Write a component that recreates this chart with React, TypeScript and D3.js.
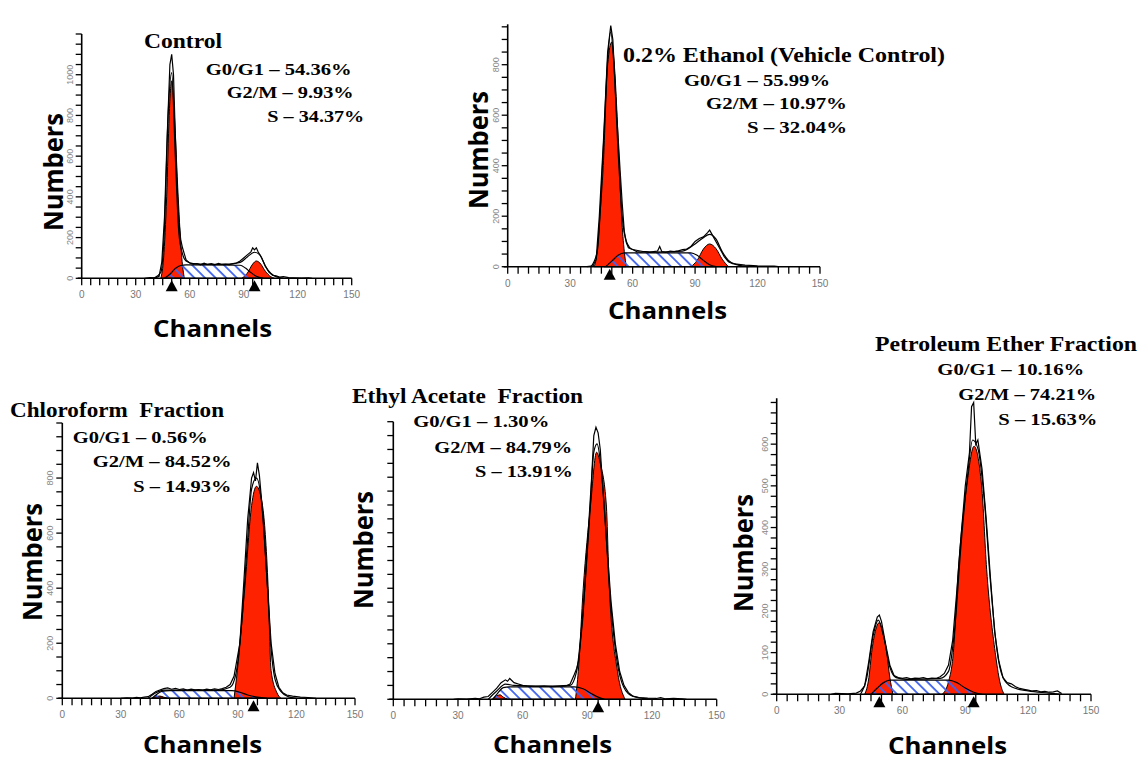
import React from 'react';
import * as d3 from 'd3';

type Pt = [number, number];

const channelTicks = [0, 30, 60, 90, 120, 150];

// ---- Control ----
const controlData: Pt[] = [[35,0],[38,3],[41,2],[43,10],[44.5,80],[46,300],[47.5,700],[49,1050],[50,1100],[51,1000],[52,700],[53,450],[54,280],[55,190],[56,150],[57,120],[58,90],[60,75],[62,70],[64,72],[66,66],[68,74],[70,68],[72,72],[74,66],[76,73],[78,68],[80,70],[82,67],[84,72],[86,75],[88,85],[90,100],[92,115],[94,130],[95,150],[96,140],[97,150],[98,130],[100,100],[102,60],[104,30],[106,15],[108,12],[110,6],[112,8],[115,3],[118,2],[122,1],[126,2],[128,0]];
const controlFit: Pt[] = [[40,0],[44,30],[46,250],[48,800],[50,1010],[52,600],[54,220],[56,120],[58,85],[62,72],[70,68],[80,68],[88,78],[92,105],[96,128],[99,115],[102,60],[105,25],[108,8],[112,0]];
const controlG1: Pt[] = [[44,0],[45.5,100],[47.2,400],[48.6,800],[50,970],[51.5,800],[53.6,400],[55.6,100],[57,0]];
const controlG2: Pt[] = [[89,0],[92,25],[95,70],[97,85],[99,75],[102,35],[105,8],[107,0]];
const controlS: Pt[] = [[46,0],[49,20],[52,48],[55,63],[58,66],[88,64],[91,50],[94,28],[97,10],[101,0]];
const controlMarkers = [50, 96];
const controlYLabels = [0, 200, 400, 600, 800, 1000];

// ---- 0.2% Ethanol ----
const ethanolData: Pt[] = [[38,0],[41,3],[42.5,30],[44,200],[46,500],[48,850],[49.5,955],[50.5,900],[52,650],[54,380],[55,250],[56,140],[57,95],[58,75],[60,68],[62,60],[64,58],[66,60],[68,57],[70,60],[72,62],[73,80],[74,60],[76,57],[78,62],[80,60],[82,63],[84,68],[86,70],[88,80],[90,100],[92,112],[94,118],[96,135],[97,145],[98,130],[100,100],[102,70],[104,40],[106,20],[108,12],[110,10],[112,8],[114,6],[116,5],[118,4],[120,3],[124,2],[128,2],[130,0]];
const ethanolFit: Pt[] = [[40,0],[43,60],[46,480],[48,820],[49.5,930],[51,800],[53,460],[55,200],[57,100],[60,68],[70,58],[84,62],[90,90],[94,115],[97,128],[100,110],[103,60],[106,25],[110,8],[116,0]];
const ethanolG1: Pt[] = [[41.5,0],[43,60],[44.3,200],[45.9,400],[48,800],[50,890],[51.2,800],[53.6,400],[54.7,200],[56,60],[57,0]];
const ethanolG2: Pt[] = [[88,0],[91,25],[94,70],[97,90],[100,72],[103,30],[106,0]];
const ethanolS: Pt[] = [[47,0],[50,22],[53,45],[56,55],[88,55],[91,45],[94,25],[97,8],[100,0]];
const ethanolMarkers = [49];
const ethanolYLabels = [0, 200, 400, 600, 800];

// ---- Chloroform ----
const chloroData: Pt[] = [[30,0],[33,2],[36,1],[38,3],[40,2],[42,4],[44,6],[46,15],[48,25],[50,30],[52,35],[54,38],[56,33],[58,36],[60,32],[62,34],[64,30],[66,33],[68,31],[70,32],[72,30],[74,33],[76,31],[78,34],[80,32],[82,35],[84,40],[86,50],[88,80],[89,120],[91,200],[93,420],[95,650],[97,800],[98,820],[99,790],[100,855],[101,810],[103,650],[105,420],[107,200],[109,90],[111,40],[113,20],[115,12],[118,8],[122,4],[126,3],[130,0]];
const chloroFit: Pt[] = [[44,0],[48,20],[52,30],[60,30],[80,30],[86,40],[89,90],[92,280],[95,580],[97,760],[99.5,800],[102,720],[105,420],[107,180],[109,70],[112,25],[116,5],[120,0]];
const chloroG1: Pt[] = [[46,0],[48,6],[50,8],[52,4],[54,0]];
const chloroG2: Pt[] = [[88,0],[89.7,100],[93.5,400],[97,700],[99.5,770],[102.6,700],[105.5,400],[107,100],[110,20],[112,0]];
const chloroS: Pt[] = [[46,0],[48,12],[51,25],[55,28],[87,28],[91,22],[95,12],[100,4],[105,0]];
const chloroMarkers = [98];
const chloroYLabels = [0, 200, 400, 600, 800];

// ---- Ethyl Acetate ----
const ethylData: Pt[] = [[28,0],[30,2],[34,1],[38,3],[40,2],[42,8],[44,10],[46,25],[48,40],[50,60],[52,70],[53,65],[54,75],[56,60],[58,55],[60,50],[62,48],[66,47],[70,48],[74,46],[78,47],[80,48],[82,55],[84,90],[85,110],[86,140],[88,300],[90,550],[92,800],[93,950],[94,980],[95,960],[96,900],[97,780],[99,560],[101,350],[103,200],[105,100],[107,50],[109,25],[111,12],[114,6],[118,4],[122,3],[124,6],[126,2],[130,3],[134,2],[136,0]];
const ethylFit: Pt[] = [[44,0],[48,30],[52,55],[56,50],[70,47],[82,50],[85,100],[88,320],[91,650],[93,890],[94.5,920],[96,860],[98,680],[100,430],[103,180],[106,60],[110,15],[116,3],[120,0]];
const ethylG1: Pt[] = [[46,0],[48,12],[49.5,16],[51,8],[53,0]];
const ethylG2: Pt[] = [[84.5,0],[85.8,100],[88.1,400],[91.5,700],[94.3,890],[96,850],[98.8,700],[100.2,400],[104,100],[107.5,0]];
const ethylS: Pt[] = [[46,0],[48,18],[51,42],[54,45],[84,45],[88,38],[92,20],[95,8],[98,0]];
const ethylMarkers = [95];
const ethylYLabels: number[] = [];

// ---- Petroleum Ether ----
const petroData: Pt[] = [[26,0],[28,2],[34,1],[38,3],[40,8],[42,20],[44,80],[46,150],[48,185],[49,190],[50,175],[52,120],[54,70],[56,45],[58,40],[60,38],[62,40],[64,37],[66,39],[68,38],[70,40],[72,37],[74,39],[76,38],[78,42],[80,50],[82,70],[84,130],[86,250],[88,380],[90,500],[92,580],[93,690],[94,700],[95,600],[96,610],[98,540],[100,420],[102,280],[104,150],[106,80],[108,40],[110,28],[112,25],[114,18],[116,14],[118,12],[120,10],[122,8],[124,9],[126,6],[128,7],[130,5],[132,6],[134,8],[136,2]];
const petroFit: Pt[] = [[40,0],[43,40],[46,140],[48.5,178],[51,140],[54,65],[57,40],[62,36],[78,38],[82,55],[85,160],[88,360],[91,520],[93.5,610],[96,590],[99,470],[102,270],[105,110],[108,40],[112,18],[120,8],[130,3],[136,0]];
const petroG1: Pt[] = [[42,0],[44,40],[45.3,100],[47,150],[49,172],[50.5,150],[52.5,100],[54,40],[55.5,0]];
const petroG2: Pt[] = [[79,0],[82,30],[84.3,100],[86.7,300],[90.7,500],[94.2,595],[97.8,500],[100.2,300],[104.3,100],[106.5,30],[108.5,0]];
const petroS: Pt[] = [[45,0],[48,15],[51,28],[54,34],[82,34],[86,28],[90,15],[94,5],[98,0]];
const petroMarkers = [49, 94];
const petroYLabels = [0, 100, 200, 300, 400, 500, 600];

const titles = ['Control', '0.2% Ethanol (Vehicle Control)', 'Chloroform  Fraction', 'Ethyl Acetate  Fraction', 'Petroleum Ether Fraction'];
const g1Values = ['54.36%', '55.99%', '0.56%', '1.30%', '10.16%'];
const g2Values = ['9.93%', '10.97%', '84.52%', '84.79%', '74.21%'];
const sValues = ['34.37%', '32.04%', '14.93%', '13.91%', '15.63%'];

const panels = [
  { data: controlData, fit: controlFit, g1: controlG1, g2: controlG2, s: controlS, markers: controlMarkers, yLabels: controlYLabels, yMax: 1200, yStep: 50 },
  { data: ethanolData, fit: ethanolFit, g1: ethanolG1, g2: ethanolG2, s: ethanolS, markers: ethanolMarkers, yLabels: ethanolYLabels, yMax: 960, yStep: 50 },
  { data: chloroData, fit: chloroFit, g1: chloroG1, g2: chloroG2, s: chloroS, markers: chloroMarkers, yLabels: chloroYLabels, yMax: 1000, yStep: 50 },
  { data: ethylData, fit: ethylFit, g1: ethylG1, g2: ethylG2, s: ethylS, markers: ethylMarkers, yLabels: ethylYLabels, yMax: 1000, yStep: 50 },
  { data: petroData, fit: petroFit, g1: petroG1, g2: petroG2, s: petroS, markers: petroMarkers, yLabels: petroYLabels, yMax: 710, yStep: 25 },
];

// plot boxes (pixels)
const boxes = [
  { left: 81.7, right: 351.7, top: 34, bottom: 278.3 },
  { left: 507.7, right: 820, top: 24.3, bottom: 266.7 },
  { left: 62.3, right: 355, top: 423, bottom: 698.3 },
  { left: 393.3, right: 716.7, top: 421.7, bottom: 699.3 },
  { left: 776.7, right: 1091, top: 398.3, bottom: 694.3 },
];

// text layout: [x, baseline, width]
const titlePos = [[144, 48.3, 78], [623, 61.7, 322], [10, 417.3, 214], [352, 402.7, 231], [875, 350.7, 262]];
const g1Pos = [[205.7, 75, 146], [684, 86, 146], [72.7, 442.7, 135], [413.3, 427.3, 136], [937.3, 375, 147]];
const g2Pos = [[226.7, 98.3, 127], [706, 109.3, 141], [92.7, 467.3, 139], [434.3, 452.7, 138], [958.3, 400, 138]];
const sPos = [[267.3, 121.7, 97], [747, 132.7, 100], [133.3, 491.7, 98], [475, 477.3, 98], [998.3, 425, 99]];
const numbersPos = [[63, 172], [488, 150], [41.7, 562], [373.3, 550], [753.3, 553]];
const channelsPos = [[212.5, 336.7], [667.5, 319], [202.5, 753], [552.5, 753], [947.5, 754]];

const serif = '"Liberation Serif", "Times New Roman", serif';
const sans = '"Open Sans", "Noto Sans", sans-serif';
const tickFont = '"Liberation Sans", Arial, sans-serif';

const Panel = ({ cfg, box, idx }: { cfg: typeof panels[number]; box: typeof boxes[number]; idx: number }) => {
  const x = d3.scaleLinear().domain([0, 150]).range([box.left, box.right]);
  const y = d3.scaleLinear().domain([0, cfg.yMax]).range([box.bottom, box.top]);
  const area = d3.area<Pt>().x(d => x(d[0])).y0(y(0)).y1(d => y(d[1])).curve(d3.curveMonotoneX);
  const smooth = d3.line<Pt>().x(d => x(d[0])).y(d => y(d[1])).curve(d3.curveMonotoneX);
  const jag = d3.line<Pt>().x(d => x(d[0])).y(d => y(d[1]));
  const xMinor = d3.range(0, 151, 5);
  const yMinor = d3.range(0, cfg.yMax + 0.01, cfg.yStep);
  const base = y(0);

  return (
    <g>
      <path d={area(cfg.g1) || ''} fill="#ff2200" stroke="#000" strokeWidth={1} />
      <path d={area(cfg.g2) || ''} fill="#ff2200" stroke="#000" strokeWidth={1} />
      <path d={area(cfg.s) || ''} fill="url(#hatch)" stroke="#000" strokeWidth={1.2} />
      <path d={smooth(cfg.fit) || ''} fill="none" stroke="#000" strokeWidth={1.2} />
      <path d={jag(cfg.data) || ''} fill="none" stroke="#000" strokeWidth={1.2} />

      {/* axes */}
      <line x1={box.left - 4} x2={box.right} y1={base} y2={base} stroke="#000" strokeWidth={1.6} />
      <line x1={box.left} x2={box.left} y1={box.top} y2={base} stroke="#000" strokeWidth={1.6} />
      {xMinor.map(v => (
        <line key={'x' + v} x1={x(v)} x2={x(v)} y1={base} y2={base + 7} stroke="#000" strokeWidth={1.3} />
      ))}
      {yMinor.map(v => (
        <line key={'y' + v} x1={box.left - 6} x2={box.left} y1={y(v)} y2={y(v)} stroke="#000" strokeWidth={1.3} />
      ))}
      {channelTicks.map(v => (
        <text key={'xl' + v} x={x(v)} y={base + 20} textAnchor="middle" fontSize={10} fill="#777" fontFamily={tickFont}>{v}</text>
      ))}
      {cfg.yLabels.map(v => (
        <text key={'yl' + v} transform={`translate(${box.left - 9},${y(v)}) rotate(-90)`} textAnchor="middle" fontSize={9} fill="#888" fontFamily={tickFont}>{v}</text>
      ))}
      {cfg.markers.map(m => (
        <path key={'m' + m} d={`M${x(m)},${base + 2}L${x(m) + 6},${base + 13}L${x(m) - 6},${base + 13}Z`} fill="#000" />
      ))}

      {/* labels */}
      <text x={titlePos[idx][0]} y={titlePos[idx][1]} textLength={titlePos[idx][2]} lengthAdjust="spacingAndGlyphs" fontFamily={serif} fontWeight="bold" fontSize={21} style={{ whiteSpace: 'pre' }}>{titles[idx]}</text>
      <text x={g1Pos[idx][0]} y={g1Pos[idx][1]} textLength={g1Pos[idx][2]} lengthAdjust="spacingAndGlyphs" fontFamily={serif} fontWeight="bold" fontSize={17}>{`G0/G1 – ${g1Values[idx]}`}</text>
      <text x={g2Pos[idx][0]} y={g2Pos[idx][1]} textLength={g2Pos[idx][2]} lengthAdjust="spacingAndGlyphs" fontFamily={serif} fontWeight="bold" fontSize={17}>{`G2/M – ${g2Values[idx]}`}</text>
      <text x={sPos[idx][0]} y={sPos[idx][1]} textLength={sPos[idx][2]} lengthAdjust="spacingAndGlyphs" fontFamily={serif} fontWeight="bold" fontSize={17}>{`S – ${sValues[idx]}`}</text>
      <text transform={`translate(${numbersPos[idx][0]},${numbersPos[idx][1]}) rotate(-90)`} textAnchor="middle" textLength={118} lengthAdjust="spacingAndGlyphs" fontFamily={sans} fontWeight="bold" fontSize={27}>Numbers</text>
      <text x={channelsPos[idx][0]} y={channelsPos[idx][1]} textAnchor="middle" textLength={119} lengthAdjust="spacingAndGlyphs" fontFamily={sans} fontWeight="bold" fontSize={24}>Channels</text>
    </g>
  );
};

export default function App() {
  return (
    <svg width={1141} height={761} style={{ position: 'absolute', left: 0, top: 0, background: '#fff' }}>
      <defs>
        <pattern id="hatch" patternUnits="userSpaceOnUse" width={7.5} height={7.5} patternTransform="rotate(-45)">
          <line x1={1} y1={-1} x2={1} y2={9} stroke="#3d62f2" strokeWidth={1.8} />
        </pattern>
      </defs>
      <rect width={1141} height={761} fill="#fff" />
      {panels.map((p, i) => (
        <Panel key={i} cfg={p} box={boxes[i]} idx={i} />
      ))}
    </svg>
  );
}
